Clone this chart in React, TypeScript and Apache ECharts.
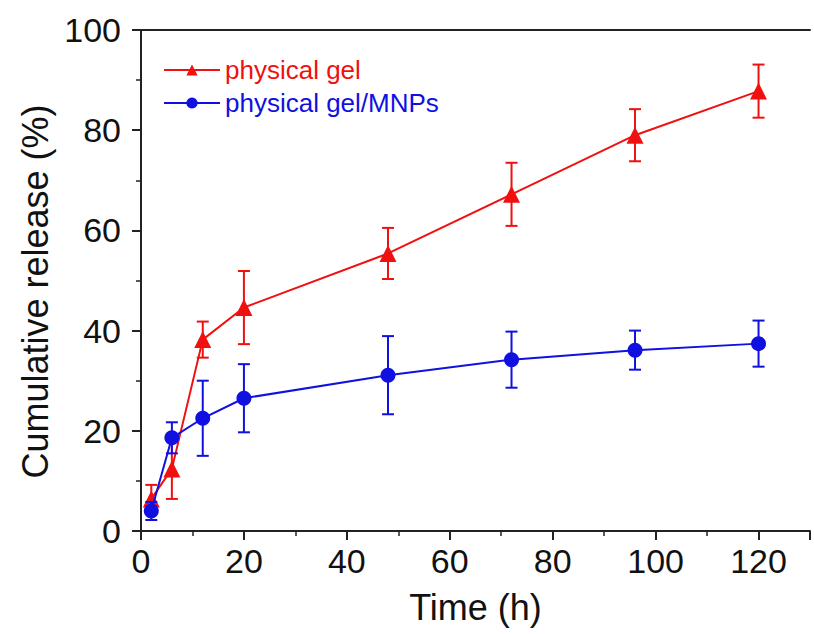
import React, { useEffect, useRef } from "react";
import * as echarts from "echarts";

const times = [2, 6, 12, 20, 48, 72, 96, 120];
const gelMean = [6.4, 12.4, 38.2, 44.6, 55.4, 67.2, 79.0, 87.8];
const gelErr = [2.8, 6.0, 3.6, 7.3, 5.1, 6.3, 5.2, 5.3];
const mnpMean = [4.0, 18.6, 22.5, 26.5, 31.1, 34.2, 36.1, 37.4];
const mnpErr = [1.8, 3.1, 7.5, 6.8, 7.8, 5.6, 3.9, 4.6];
const xTicks = [0, 20, 40, 60, 80, 100, 120];
const yTicks = [0, 20, 40, 60, 80, 100];

const RED = "#f01010";
const BLUE = "#1010e0";

function errData(mean: number[], err: number[]) {
  return times.map((t, i) => [t, mean[i] - err[i], mean[i] + err[i]]);
}

function errSeries(name: string, data: number[][], color: string, z: number) {
  return {
    type: "custom",
    name: name + "_err",
    z,
    silent: true,
    data,
    encode: { x: 0, y: [1, 2] },
    renderItem: (params: any, api: any) => {
      const x = api.value(0);
      const lo = api.coord([x, api.value(1)]);
      const hi = api.coord([x, api.value(2)]);
      const w = 6;
      const style = { stroke: color, lineWidth: 2 };
      return {
        type: "group",
        children: [
          { type: "line", shape: { x1: lo[0], y1: lo[1], x2: hi[0], y2: hi[1] }, style },
          { type: "line", shape: { x1: lo[0] - w, y1: lo[1], x2: lo[0] + w, y2: lo[1] }, style },
          { type: "line", shape: { x1: hi[0] - w, y1: hi[1], x2: hi[0] + w, y2: hi[1] }, style },
        ],
      };
    },
  };
}

export default function App() {
  const ref = useRef<HTMLDivElement>(null);
  useEffect(() => {
    if (!ref.current) return;
    const chart = echarts.init(ref.current, null, { renderer: "svg" });
    const axisFont = "Liberation Sans, Arial, sans-serif";
    chart.setOption({
      animation: false,
      backgroundColor: "#ffffff",
      grid: { left: 141, right: 4, top: 30, bottom: 103 },
      legend: {
        left: 158,
        top: 52,
        orient: "vertical",
        itemGap: 7,
        itemWidth: 56,
        itemHeight: 14,
        data: [
          { name: "physical gel", textStyle: { color: RED } },
          { name: "physical gel/MNPs", textStyle: { color: BLUE } },
        ],
        textStyle: { fontSize: 26, fontFamily: axisFont },
      },
      xAxis: [
        {
          type: "value",
          min: 0,
          max: 130,
          interval: 20,
          name: "Time (h)",
          nameLocation: "middle",
          nameGap: 58,
          nameTextStyle: { fontSize: 36, color: "#111", fontFamily: axisFont },
          axisLine: { show: true, onZero: false, lineStyle: { color: "#222", width: 2 } },
          axisTick: { show: true, length: 9, lineStyle: { color: "#222", width: 2 } },
          minorTick: { show: true, splitNumber: 2, length: 5, lineStyle: { color: "#222", width: 1.5 } },
          axisLabel: {
            fontSize: 34,
            color: "#111",
            margin: 13,
            fontFamily: axisFont,
            customValues: xTicks,
          },
          splitLine: { show: false },
        },
        {
          type: "value",
          position: "top",
          min: 0,
          max: 130,
          axisLine: { show: true, onZero: false, lineStyle: { color: "#222", width: 2 } },
          axisTick: { show: false },
          axisLabel: { show: false },
          splitLine: { show: false },
        },
      ],
      yAxis: {
        type: "value",
        min: 0,
        max: 100,
        interval: 20,
        name: "Cumulative release (%)",
        nameLocation: "middle",
        nameGap: 86,
        nameTextStyle: { fontSize: 36, color: "#111", fontFamily: axisFont, padding: [0, 22, 0, 0] },
        axisLine: { show: true, onZero: false, lineStyle: { color: "#222", width: 2 } },
        axisTick: { show: true, length: 9, lineStyle: { color: "#222", width: 2 } },
        minorTick: { show: true, splitNumber: 2, length: 5, lineStyle: { color: "#222", width: 1.5 } },
        axisLabel: { fontSize: 34, color: "#111", margin: 20, fontFamily: axisFont, customValues: yTicks },
        splitLine: { show: false },
      },
      series: [
        errSeries("physical gel", errData(gelMean, gelErr), RED, 2),
        {
          type: "line",
          name: "physical gel",
          z: 3,
          data: times.map((t, i) => [t, gelMean[i]]),
          symbol: "triangle",
          symbolSize: 17,
          itemStyle: { color: RED },
          lineStyle: { color: RED, width: 2 },
        },
        errSeries("physical gel/MNPs", errData(mnpMean, mnpErr), BLUE, 4),
        {
          type: "line",
          name: "physical gel/MNPs",
          z: 5,
          data: times.map((t, i) => [t, mnpMean[i]]),
          symbol: "circle",
          symbolSize: 15,
          itemStyle: { color: BLUE },
          lineStyle: { color: BLUE, width: 2 },
        },
      ],
    });
    return () => chart.dispose();
  }, []);
  return (
    <div
      ref={ref}
      style={{ position: "absolute", left: 0, top: 0, width: 814, height: 634 }}
    />
  );
}
